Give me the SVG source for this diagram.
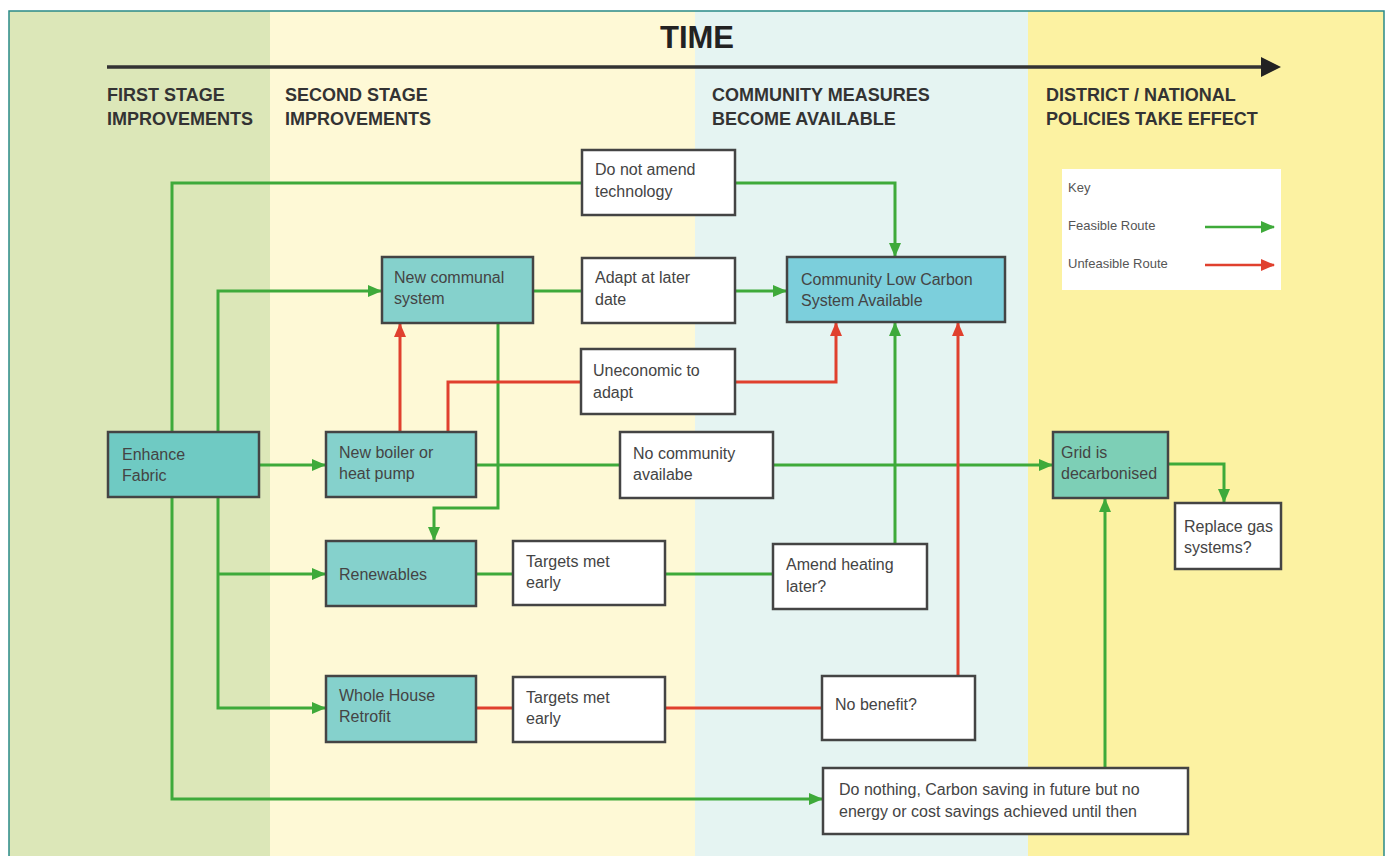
<svg xmlns="http://www.w3.org/2000/svg" width="1389" height="856" viewBox="0 0 1389 856">
<style>
.hdr{font-family:"Liberation Sans",Arial,sans-serif;font-weight:bold;font-size:18px;fill:#333}
.t{font-family:"Liberation Sans",Arial,sans-serif;font-size:16px;fill:#444}
.k{font-family:"Liberation Sans",Arial,sans-serif;font-size:13px;fill:#555}
.box{stroke:#444;stroke-width:2.5}
.w{fill:#fff}
.tl{fill:#85d1cc}
.g{fill:none;stroke:#3eaa3a;stroke-width:3}
.r{fill:none;stroke:#e0402e;stroke-width:3}
</style>
<defs>
<marker id="ag" markerUnits="userSpaceOnUse" markerWidth="14" markerHeight="12" refX="13" refY="6" orient="auto"><path d="M0,0 L14,6 L0,12 Z" fill="#3eaa3a"/></marker>
<marker id="ar" markerUnits="userSpaceOnUse" markerWidth="14" markerHeight="12" refX="13" refY="6" orient="auto"><path d="M0,0 L14,6 L0,12 Z" fill="#e0402e"/></marker>
</defs>
<g id="background">
<rect x="0" y="0" width="1389" height="856" fill="#fff"/>
<rect x="9" y="11" width="261" height="845" fill="#dce7b8"/>
<rect x="270" y="11" width="425" height="845" fill="#fef9d6"/>
<rect x="695" y="11" width="333" height="845" fill="#e5f4f2"/>
<rect x="1028" y="11" width="356" height="845" fill="#fcf2a2"/>
<path d="M9,856 V11 H1384 V856" fill="none" stroke="#2a8a88" stroke-width="1.5"/>
</g>
<g id="timeline">
<text x="697" y="48" text-anchor="middle" font-family="Liberation Sans,Arial,sans-serif" font-weight="bold" font-size="31" fill="#222">TIME</text>
<line x1="107" y1="67" x2="1264" y2="67" stroke="#333" stroke-width="3.5"/>
<polygon points="1261,57 1281,67 1261,77" fill="#222"/>
<text class="hdr" x="107" y="101">FIRST STAGE</text>
<text class="hdr" x="107" y="125">IMPROVEMENTS</text>
<text class="hdr" x="285" y="101">SECOND STAGE</text>
<text class="hdr" x="285" y="125">IMPROVEMENTS</text>
<text class="hdr" x="712" y="101">COMMUNITY MEASURES</text>
<text class="hdr" x="712" y="125">BECOME AVAILABLE</text>
<text class="hdr" x="1046" y="101">DISTRICT / NATIONAL</text>
<text class="hdr" x="1046" y="125">POLICIES TAKE EFFECT</text>
</g>
<g id="connectors">
<path class="g" d="M172,432 V183 H582"/>
<path class="g" d="M735,183 H895 V256" marker-end="url(#ag)"/>
<path class="g" d="M218,432 V291 H381" marker-end="url(#ag)"/>
<path class="g" d="M259,465 H325" marker-end="url(#ag)"/>
<path class="g" d="M533,291 H582"/>
<path class="g" d="M735,291 H786" marker-end="url(#ag)"/>
<path class="g" d="M498,323 V508 H434 V540" marker-end="url(#ag)"/>
<path class="g" d="M476,465 H620"/>
<path class="g" d="M773,465 H1052" marker-end="url(#ag)"/>
<path class="g" d="M218,497 V708 H325" marker-end="url(#ag)"/>
<path class="g" d="M218,574 H325" marker-end="url(#ag)"/>
<path class="g" d="M172,497 V799 H822" marker-end="url(#ag)"/>
<path class="g" d="M476,574 H513"/>
<path class="g" d="M665,574 H773"/>
<path class="g" d="M895,544 V323" marker-end="url(#ag)"/>
<path class="g" d="M1105,768 V499" marker-end="url(#ag)"/>
<path class="g" d="M1168,464 H1224 V502" marker-end="url(#ag)"/>
<path class="r" d="M400,432 V324" marker-end="url(#ar)"/>
<path class="r" d="M448,432 V382 H581"/>
<path class="r" d="M735,382 H836 V323" marker-end="url(#ar)"/>
<path class="r" d="M476,708 H513"/>
<path class="r" d="M665,708 H822"/>
<path class="r" d="M958,676 V323" marker-end="url(#ar)"/>
</g>
<g id="enhance-fabric"><rect class="box" x="108" y="432" width="151" height="65" fill="#6fcac3"/><text class="t" x="122" y="460">Enhance</text><text class="t" x="122" y="481">Fabric</text></g>
<g id="new-boiler"><rect class="box tl" x="326" y="432" width="150" height="65"/><text class="t" x="339" y="458">New boiler or</text><text class="t" x="339" y="479">heat pump</text></g>
<g id="new-communal"><rect class="box tl" x="382" y="257" width="151" height="66"/><text class="t" x="394" y="283">New communal</text><text class="t" x="394" y="304">system</text></g>
<g id="renewables"><rect class="box tl" x="326" y="541" width="150" height="65"/><text class="t" x="339" y="580">Renewables</text></g>
<g id="whole-house"><rect class="box tl" x="326" y="676" width="150" height="66"/><text class="t" x="339" y="701">Whole House</text><text class="t" x="339" y="722">Retrofit</text></g>
<g id="do-not-amend"><rect class="box w" x="582" y="150" width="153" height="65"/><text class="t" x="595" y="175">Do not amend</text><text class="t" x="595" y="197">technology</text></g>
<g id="adapt-later"><rect class="box w" x="582" y="258" width="153" height="65"/><text class="t" x="595" y="283">Adapt at later</text><text class="t" x="595" y="305">date</text></g>
<g id="uneconomic"><rect class="box w" x="581" y="349" width="154" height="65"/><text class="t" x="593" y="376">Uneconomic to</text><text class="t" x="593" y="398">adapt</text></g>
<g id="community-low-carbon"><rect class="box" x="787" y="257" width="218" height="65" fill="#7ccfdc"/><text class="t" x="801" y="285">Community Low Carbon</text><text class="t" x="801" y="306">System Available</text></g>
<g id="no-community"><rect class="box w" x="620" y="432" width="153" height="66"/><text class="t" x="633" y="459">No community</text><text class="t" x="633" y="480">availabe</text></g>
<g id="targets-met-1"><rect class="box w" x="513" y="541" width="152" height="64"/><text class="t" x="526" y="567">Targets met</text><text class="t" x="526" y="588">early</text></g>
<g id="amend-heating"><rect class="box w" x="773" y="544" width="154" height="65"/><text class="t" x="786" y="570">Amend heating</text><text class="t" x="786" y="592">later?</text></g>
<g id="targets-met-2"><rect class="box w" x="513" y="677" width="152" height="65"/><text class="t" x="526" y="703">Targets met</text><text class="t" x="526" y="724">early</text></g>
<g id="no-benefit"><rect class="box w" x="822" y="676" width="153" height="64"/><text class="t" x="835" y="710">No benefit?</text></g>
<g id="grid-decarbonised"><rect class="box" x="1053" y="432" width="115" height="66" fill="#7dcfb6"/><text class="t" x="1061" y="458">Grid is</text><text class="t" x="1061" y="479">decarbonised</text></g>
<g id="replace-gas"><rect class="box w" x="1175" y="503" width="106" height="66"/><text class="t" x="1184" y="532">Replace gas</text><text class="t" x="1184" y="553">systems?</text></g>
<g id="do-nothing"><rect class="box w" x="823" y="768" width="365" height="66"/><text class="t" x="839" y="795">Do nothing, Carbon saving in future but no</text><text class="t" x="839" y="817">energy or cost savings achieved until then</text></g>
<g id="key"><rect x="1062" y="169" width="219" height="121" fill="#fff"/><text class="k" x="1068" y="192">Key</text><text class="k" x="1068" y="230">Feasible Route</text><text class="k" x="1068" y="268">Unfeasible Route</text><line x1="1205" y1="227" x2="1274" y2="227" stroke="#3eaa3a" stroke-width="2.5" marker-end="url(#ag)"/><line x1="1205" y1="265" x2="1274" y2="265" stroke="#e0402e" stroke-width="2.5" marker-end="url(#ar)"/></g>
</svg>
